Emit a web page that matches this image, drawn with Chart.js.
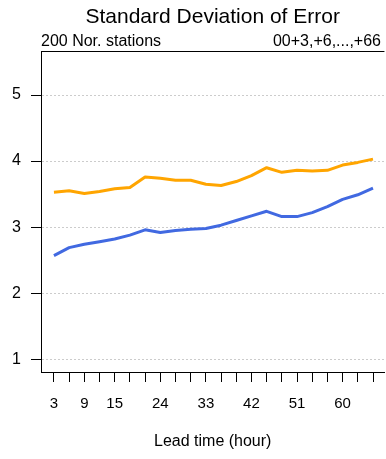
<!DOCTYPE html>
<html>
<head>
<meta charset="utf-8">
<script src="https://cdn.jsdelivr.net/npm/chart.js@4/dist/chart.umd.min.js"></script>
<style>
  html, body { margin: 0; padding: 0; background: #fff; }
  canvas { display: block; }
</style>
</head>
<body>
<canvas id="grafico" width="386" height="459"></canvas>
<script>
// datos
var horas = [3, 6, 9, 12, 15, 18, 21, 24, 27, 30, 33, 36, 39, 42, 45, 48, 51, 54, 57, 60, 63, 66];
var sdeNaranja = [3.53, 3.55, 3.51, 3.54, 3.58, 3.60, 3.76, 3.74, 3.71, 3.71, 3.65, 3.63,
                  3.69, 3.78, 3.90, 3.83, 3.86, 3.85, 3.86, 3.94, 3.98, 4.03];
var sdeAzul = [2.57, 2.69, 2.74, 2.78, 2.82, 2.88, 2.96, 2.92, 2.95, 2.97, 2.98, 3.03,
               3.10, 3.17, 3.24, 3.16, 3.16, 3.22, 3.31, 3.42, 3.49, 3.59];
var ticksX = [3, 9, 15, 24, 33, 42, 51, 60];
var ticksY = [1, 2, 3, 4, 5];
var titulo = 'Standard Deviation of Error';
var subIzq = '200 Nor. stations';
var subDer = '00+3,+6,...,+66';
var tituloX = 'Lead time (hour)';

var fuente = "'Liberation Sans', Arial, Helvetica, sans-serif";

function aPuntos(valores) {
	return valores.map(function (v, i) {
		return {x: horas[i], y: v};
	});
}

var pluginMarco = {
	id: 'marco',
	afterDraw: function (chart) {
		var ctx = chart.ctx;
		var area = chart.chartArea;
		ctx.save();
		// linea superior
		ctx.strokeStyle = '#000';
		ctx.lineWidth = 1;
		ctx.beginPath();
		ctx.moveTo(area.left, Math.round(area.top) + 0.5);
		ctx.lineTo(area.right, Math.round(area.top) + 0.5);
		ctx.stroke();
		// titulos
		ctx.fillStyle = '#000';
		ctx.textBaseline = 'alphabetic';
		ctx.font = '21px ' + fuente;
		ctx.textAlign = 'center';
		ctx.fillText(titulo, (area.left + area.right) / 2, 23);
		ctx.font = '16px ' + fuente;
		ctx.textAlign = 'left';
		ctx.fillText(subIzq, area.left, 45.5);
		ctx.textAlign = 'right';
		ctx.fillText(subDer, 381, 45.5);
		ctx.restore();
	}
};

var ctx = document.getElementById('grafico').getContext('2d');
var chart = new Chart(ctx, {
	type: 'line',
	data: {
		datasets: [{
			data: aPuntos(sdeNaranja),
			borderColor: '#FFA500',
			borderWidth: 3,
			pointRadius: 0,
			borderJoinStyle: 'round',
			tension: 0
		}, {
			data: aPuntos(sdeAzul),
			borderColor: '#4169E1',
			borderWidth: 3,
			pointRadius: 0,
			borderJoinStyle: 'round',
			tension: 0
		}]
	},
	options: {
		responsive: false,
		animation: false,
		layout: {padding: {top: 51, left: 0, right: 0, bottom: 0}},
		plugins: {
			legend: {display: false},
			title: {display: false},
			tooltip: {enabled: false}
		},
		scales: {
			x: {
				type: 'linear',
				min: 0.444,
				max: 68.26,
				afterFit: function (scale) { scale.height = 87; },
				afterBuildTicks: function (scale) {
					scale.ticks = horas.map(function (h) { return {value: h}; });
				},
				ticks: {
					autoSkip: false,
					maxRotation: 0,
					padding: 13,
					color: '#000',
					font: {family: fuente, size: 15},
					callback: function (v) {
						return ticksX.indexOf(v) >= 0 ? String(v) : '';
					}
				},
				grid: {
					drawOnChartArea: false,
					drawTicks: true,
					tickLength: 10,
					tickColor: '#000',
					tickWidth: 1
				},
				border: {display: true, color: '#000', width: 1},
				title: {
					display: true,
					text: tituloX,
					color: '#000',
					font: {family: fuente, size: 16},
					padding: {top: 0, bottom: 8}
				}
			},
			y: {
				type: 'linear',
				min: 0.808,
				max: 5.666,
				afterFit: function (scale) { scale.width = 41; },
				afterBuildTicks: function (scale) {
					scale.ticks = ticksY.map(function (v) { return {value: v}; });
				},
				ticks: {
					padding: 10,
					color: '#000',
					font: {family: fuente, size: 16}
				},
				grid: {
					color: '#cccccc',
					lineWidth: 1,
					tickLength: 10,
					tickColor: '#000',
					tickWidth: 1,
					tickBorderDash: []
				},
				border: {display: true, color: '#000', width: 1, dash: [2, 2]}
			}
		}
	},
	plugins: [pluginMarco]
});
</script>
</body>
</html>
